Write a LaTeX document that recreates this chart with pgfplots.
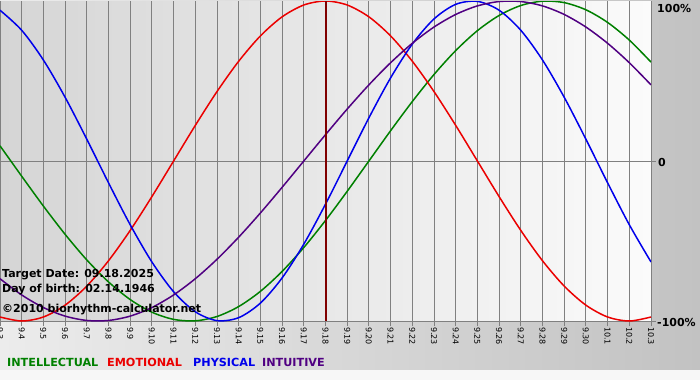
\documentclass[border=0pt]{standalone}
\usepackage{pgfplots}
\pgfplotsset{compat=1.18}
\usepackage{pgfplotstable}
\usepackage{fontspec}
\setmainfont{DejaVu Sans}
\definecolor{cint}{RGB}{0,128,0}
\definecolor{cemo}{RGB}{235,0,0}
\definecolor{cphy}{RGB}{0,0,235}
\definecolor{cintu}{RGB}{80,0,130}
\definecolor{cmark}{RGB}{128,0,0}
\definecolor{gridc}{RGB}{128,128,128}
\pgfplotstableread{
d intel emo phys intu
0 0.0951 -0.9749 0.9423 -0.7357
1 -0.0951 -1.0000 0.8170 -0.8372
2 -0.2817 -0.9749 0.6311 -0.9158
3 -0.4582 -0.9010 0.3984 -0.9694
4 -0.6182 -0.7818 0.1362 -0.9966
5 -0.7557 -0.6235 -0.1362 -0.9966
6 -0.8660 -0.4339 -0.3984 -0.9694
7 -0.9450 -0.2225 -0.6311 -0.9158
8 -0.9898 0.0000 -0.8170 -0.8372
9 -0.9989 0.2225 -0.9423 -0.7357
10 -0.9718 0.4339 -0.9977 -0.6142
11 -0.9096 0.6235 -0.9791 -0.4759
12 -0.8146 0.7818 -0.8879 -0.3247
13 -0.6901 0.9010 -0.7308 -0.1646
14 -0.5406 0.9749 -0.5196 0.0000
15 -0.3717 1.0000 -0.2698 0.1646
16 -0.1893 0.9749 0.0000 0.3247
17 0.0000 0.9010 0.2698 0.4759
18 0.1893 0.7818 0.5196 0.6142
19 0.3717 0.6235 0.7308 0.7357
20 0.5406 0.4339 0.8879 0.8372
21 0.6901 0.2225 0.9791 0.9158
22 0.8146 0.0000 0.9977 0.9694
23 0.9096 -0.2225 0.9423 0.9966
24 0.9718 -0.4339 0.8170 0.9966
25 0.9989 -0.6235 0.6311 0.9694
26 0.9898 -0.7818 0.3984 0.9158
27 0.9450 -0.9010 0.1362 0.8372
28 0.8660 -0.9749 -0.1362 0.7357
29 0.7557 -1.0000 -0.3984 0.6142
30 0.6182 -0.9749 -0.6311 0.4759
}\bio
\begin{document}
\begin{tikzpicture}
\useasboundingbox (0,-380pt) rectangle (700pt,0);
\clip (0,-380pt) rectangle (700pt,0);
\shade[left color={rgb,255:red,236;green,236;blue,236}, right color={rgb,255:red,194;green,194;blue,194}] (0,-370pt) rectangle (700pt,0);
\fill[white!97!black] (0,-380pt) rectangle (700pt,-370pt);
\begin{axis}[
  at={(0pt,-1pt)}, anchor=north west,
  scale only axis, width=651pt, height=320pt,
  xmin=0, xmax=30, ymin=-1, ymax=1,
  axis background/.style={left color={rgb,255:red,213;green,213;blue,213}, right color={rgb,255:red,251;green,251;blue,251}},
  axis line style={draw=none},
  xtick={0,...,30},
  xticklabels={9.3,9.4,9.5,9.6,9.7,9.8,9.9,9.10,9.11,9.12,9.13,9.14,9.15,9.16,9.17,9.18,9.19,9.20,9.21,9.22,9.23,9.24,9.25,9.26,9.27,9.28,9.29,9.30,10.1,10.2,10.3},
  xticklabel style={font=\fontsize{8}{9}\selectfont, rotate=-90, anchor=west, inner sep=1pt},
  ytick={-1,0}, yticklabels={},
  xtick pos=bottom, ytick pos=right,
  tick align=outside, major tick length=5pt,
  tick style={gridc, line width=1pt},
  xmajorgrids, ymajorgrids,
  grid style={gridc, line width=1pt},
]
\addplot[cint, line width=1.5pt, smooth] table[x=d, y=intel] {\bio};
\addplot[cemo, line width=1.5pt, smooth] table[x=d, y=emo] {\bio};
\addplot[cphy, line width=1.5pt, smooth] table[x=d, y=phys] {\bio};
\addplot[cintu, line width=1.5pt, smooth] table[x=d, y=intu] {\bio};
\addplot[cmark, line width=2pt] coordinates {(15,-1) (15,1)};
\end{axis}
\node[anchor=west, font=\fontsize{11}{12}\selectfont\bfseries, inner sep=0pt] at (657pt,-8pt) {100\%};
\node[anchor=west, font=\fontsize{11}{12}\selectfont\bfseries, inner sep=0pt] at (658pt,-162pt) {0};
\node[anchor=west, font=\fontsize{11}{12}\selectfont\bfseries, inner sep=0pt] at (657pt,-322pt) {-100\%};
\begin{scope}[every node/.style={anchor=base west, inner sep=0pt, font=\fontsize{11}{13}\selectfont\bfseries}]
\node at (2pt,-277pt) {Target Date: 09.18.2025};
\node at (2pt,-292pt) {Day of birth: 02.14.1946};
\node at (2pt,-312pt) {\textcopyright2010 biorhythm-calculator.net};
\end{scope}
\begin{scope}[every node/.style={anchor=base west, inner sep=0pt, font=\fontsize{11.2}{13}\selectfont\bfseries}]
\node[text=cint] at (7pt,-366pt) {INTELLECTUAL};
\node[text=cemo] at (107pt,-366pt) {EMOTIONAL};
\node[text=cphy] at (193pt,-366pt) {PHYSICAL};
\node[text=cintu] at (262pt,-366pt) {INTUITIVE};
\end{scope}
\end{tikzpicture}
\end{document}
